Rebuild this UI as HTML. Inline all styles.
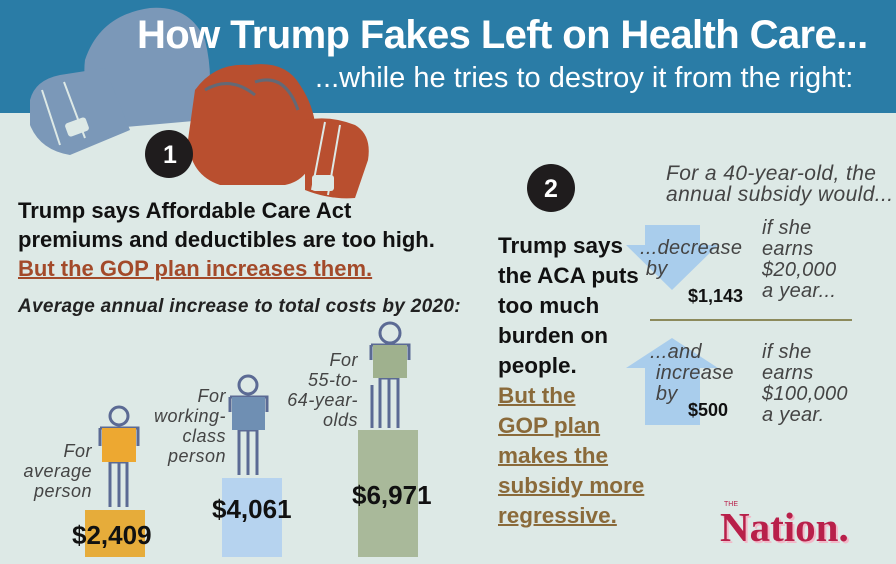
<!DOCTYPE html>
<html><head><meta charset="utf-8"><style>
*{margin:0;padding:0}
body{width:896px;height:564px;position:relative;overflow:hidden;background:#dde9e6;font-family:"Liberation Sans",sans-serif}
.a{position:absolute;white-space:nowrap}
.i{font-style:italic;color:#444;font-size:18px;line-height:20px;letter-spacing:0.5px}
.r{font-style:italic;color:#444;font-size:20px;line-height:21px;letter-spacing:0.3px}
.b{font-weight:bold;color:#111}
.u{color:#a34a2a;text-decoration:underline;text-decoration-thickness:2px}
.u2{color:#8a6a3a;text-decoration:underline;text-decoration-thickness:2px}
</style></head><body>
<div class="a" style="left:0;top:0;width:896px;height:113px;background:#2a7ca6"></div>
<svg class="a" style="left:0;top:0" width="896" height="564">
<g fill="#7b98b8">
<path d="M85,60 Q100,15 150,8 Q190,5 205,40 Q215,80 205,120 L115,128 Q80,100 85,60 Z"/>
<path d="M30,100 Q35,80 60,75 L105,68 L130,130 L70,155 Q40,150 30,125 Z"/>
</g>
<path d="M42,90 L60,145 M64,82 L85,138" stroke="#dde9e6" stroke-width="2" fill="none"/>
<rect x="66" y="120" width="22" height="14" rx="3" fill="#dde9e6" transform="rotate(-20 77 127)"/>
<g fill="#b94f2f">
<path d="M195,90 Q215,62 250,65 Q285,60 300,85 Q320,115 315,150 Q310,180 285,185 L220,185 Q190,175 188,140 Z"/>
<path d="M305,120 Q330,115 355,125 Q372,135 368,160 L355,198 Q330,200 305,190 Z"/>
</g>
<path d="M205,90 Q230,75 255,95 M255,82 Q285,72 298,110" stroke="#2a7ca6" stroke-width="3" fill="none" opacity="0.6"/>
<path d="M325,122 L312,190 M340,125 L328,195" stroke="#dde9e6" stroke-width="2" fill="none"/>
<rect x="312" y="175" width="22" height="16" rx="3" fill="#dde9e6"/>
<circle cx="169" cy="154" r="24" fill="#1f1c1d"/>
<circle cx="551" cy="188" r="24" fill="#1f1c1d"/>
<path d="M645,225 L700,225 L700,245 L718,245 L672,290 L626,245 L645,245 Z" fill="#a9cdec"/>
<path d="M672,338 L718,368 L700,368 L700,425 L645,425 L645,368 L626,368 Z" fill="#a9cdec"/>
<line x1="650" y1="320" x2="852" y2="320" stroke="#8c8a5c" stroke-width="2"/>
<rect x="85" y="510" width="60" height="47" fill="#e6ac3a"/>
<rect x="222" y="478" width="60" height="79" fill="#b6d3ef"/>
<rect x="358" y="430" width="60" height="127" fill="#a9b99a"/>
<g stroke="#5b6a94" stroke-width="3" fill="none">
<circle cx="119" cy="416" r="9"/>
<path d="M100,428 h38 v18 M100,428 v18 M110,462 v45 M127,462 v45 M110,462 h17 M119,462 v45"/>
<circle cx="248" cy="385" r="9"/>
<path d="M230,397 h37 v15 M230,397 v15 M239,430 v45 M257,430 v45 M239,430 h18 M248,430 v45"/>
<circle cx="390" cy="333" r="10"/>
<path d="M371,345 h38 v15 M371,345 v15 M380,378 v50 M398,378 v50 M380,378 h18 M389,378 v50 M372,385 v43"/>
</g>
<rect x="102" y="428" width="34" height="34" fill="#eda831"/>
<rect x="232" y="397" width="33" height="33" fill="#6f8fb3"/>
<rect x="373" y="345" width="34" height="33" fill="#9fb18e"/>
</svg>
<div class="a b" style="left:137px;top:13px;font-size:40px;color:#fff;letter-spacing:-0.6px">How Trump Fakes Left on Health Care...</div>
<div class="a" style="left:315px;top:62px;font-size:29px;color:#fff">...while he tries to destroy it from the right:</div>
<div class="a b" style="left:163px;top:141px;font-size:25px;color:#fff">1</div>
<div class="a b" style="left:544px;top:175px;font-size:25px;color:#fff">2</div>
<div class="a b" style="left:18px;top:196px;font-size:22px;line-height:29px">Trump says Affordable Care Act<br>premiums and deductibles are too high.<br><span class="u">But the GOP plan increases them.</span></div>
<div class="a" style="left:18px;top:296px;font-size:19px;font-style:italic;font-weight:bold;color:#222;letter-spacing:0.3px">Average annual increase to total costs by 2020:</div>
<div class="a i" style="left:12px;top:441px;text-align:right;width:80px">For<br>average<br>person</div>
<div class="a i" style="left:140px;top:386px;text-align:right;width:86px">For<br>working-<br>class<br>person</div>
<div class="a i" style="left:270px;top:350px;text-align:right;width:88px">For<br>55-to-<br>64-year-<br>olds</div>
<div class="a b" style="left:72px;top:520px;font-size:26px">$2,409</div>
<div class="a b" style="left:212px;top:494px;font-size:26px">$4,061</div>
<div class="a b" style="left:352px;top:480px;font-size:26px">$6,971</div>
<div class="a b" style="left:498px;top:231px;font-size:22.5px;line-height:30px">Trump says<br>the ACA puts<br>too much<br>burden on<br>people.<br><span class="u2">But the </span><br><span class="u2">GOP plan </span><br><span class="u2">makes the </span><br><span class="u2">subsidy more </span><br><span class="u2">regressive.</span></div>
<div class="a r" style="left:666px;top:163px;font-size:21px;line-height:21px;letter-spacing:0.4px">For a 40-year-old, the<br>annual subsidy would...</div>
<div class="a r" style="left:640px;top:238px">...decrease<br>&nbsp;by</div>
<div class="a r" style="left:762px;top:218px">if she<br>earns<br>$20,000<br>a year...</div>
<div class="a b" style="left:688px;top:286px;font-size:18px">$1,143</div>
<div class="a r" style="left:650px;top:342px">...and<br>&nbsp;increase<br>&nbsp;by</div>
<div class="a r" style="left:762px;top:342px">if she<br>earns<br>$100,000<br>a year.</div>
<div class="a b" style="left:688px;top:400px;font-size:18px">$500</div>
<div class="a" style="left:720px;top:503px;font-family:'Liberation Serif',serif;font-weight:bold;font-size:41px;color:#b8204a;text-shadow:2px 2px 0 #f2b8c8">Nation.</div>
<div class="a" style="left:724px;top:501px;font-size:7px;color:#b8204a">THE</div>
</body></html>
